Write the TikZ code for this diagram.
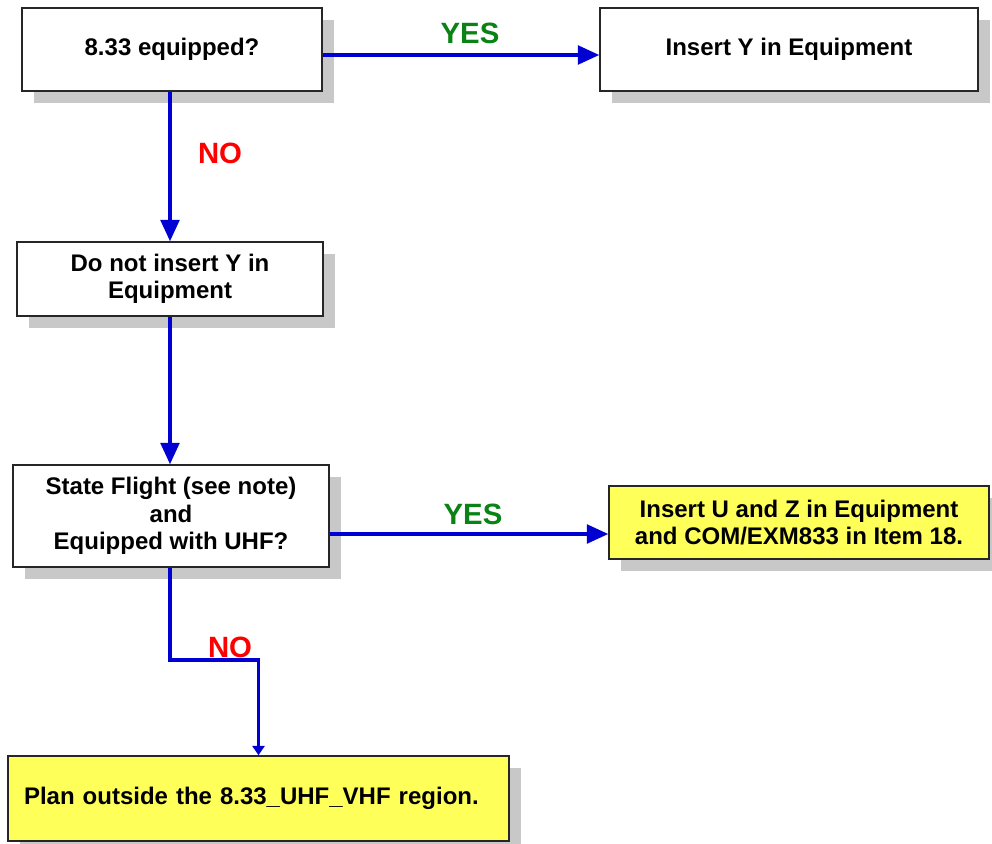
\documentclass[tikz,border=0pt]{standalone}
\usepackage{fontspec}
\setmainfont{Liberation Sans}
\usetikzlibrary{shadows,arrows.meta,calc}
\definecolor{lineblue}{RGB}{0,0,210}
\definecolor{boxyellow}{RGB}{255,255,90}
\definecolor{shadowgray}{RGB}{200,200,200}
\definecolor{yesgreen}{RGB}{10,130,20}
\definecolor{nored}{RGB}{255,0,0}
\tikzset{
  box/.style={draw=black!85, line width=1.1pt, fill=white, inner sep=0pt, align=center,
    font=\fontsize{18}{20.5}\selectfont\bfseries,
    general shadow={fill=shadowgray, shadow xshift=9pt, shadow yshift=-9pt}},
  ybox/.style={box, fill=boxyellow},
  arr/.style={draw=lineblue, line width=2.4pt, -{Triangle[length=16pt,width=14pt]}},
  yeslab/.style={text=yesgreen, font=\fontsize{22}{24}\selectfont\bfseries},
  nolab/.style={text=nored, font=\fontsize{22}{24}\selectfont\bfseries}
}
\begin{document}
\begin{tikzpicture}[x=0.75pt,y=-0.75pt]
\useasboundingbox (0,0) rectangle (992,843);
\node[box, minimum width=225pt, minimum height=62.25pt] (a) at (172,49.5) {8.33 equipped?};
\node[box, minimum width=283.5pt, minimum height=62.25pt] (b) at (789,49.5) {Insert Y in Equipment};
\node[box, minimum width=229.5pt, minimum height=55.5pt] (c) at (170,279) {Do not insert Y in\\Equipment};
\node[box, minimum width=237pt, minimum height=76.5pt] (d) at (171,516) {State Flight (see note)\\and\\Equipped with UHF?};
\node[ybox, minimum width=285pt, minimum height=54.75pt] (e) at (799,522.5) {Insert U and Z in Equipment\\and COM/EXM833 in Item 18.};
\node[ybox, minimum width=375.75pt, minimum height=63.75pt, inner xsep=12pt, text width=351.75pt, align=left] (f) at (258.5,798.5) {Plan outside the 8.33\_UHF\_VHF region.};

\draw[arr] ($(a.east)+(0,5.5)$) -- ($(b.west)+(0,5.5)$);
\draw[arr] (a.south -| c.north) -- (c.north);
\draw[arr] (c.south) -- (d.north -| c.south);
\draw[arr] ($(d.east)+(0,18)$) -- ($(e.west)+(0,11.5)$);
\coordinate (bend) at (170,660);
\draw[draw=lineblue, line width=2.4pt, -{Triangle[length=7pt,width=9pt]}] (bend |- d.south) -- (bend) -| (f.north);

\node[yeslab] (yes1) at (470,33) {YES};
\node[nolab] (no1) at (220,153) {NO};
\node[yeslab] (yes2) at (473,514) {YES};
\node[nolab] (no2) at (230,647) {NO};
\end{tikzpicture}
\end{document}
